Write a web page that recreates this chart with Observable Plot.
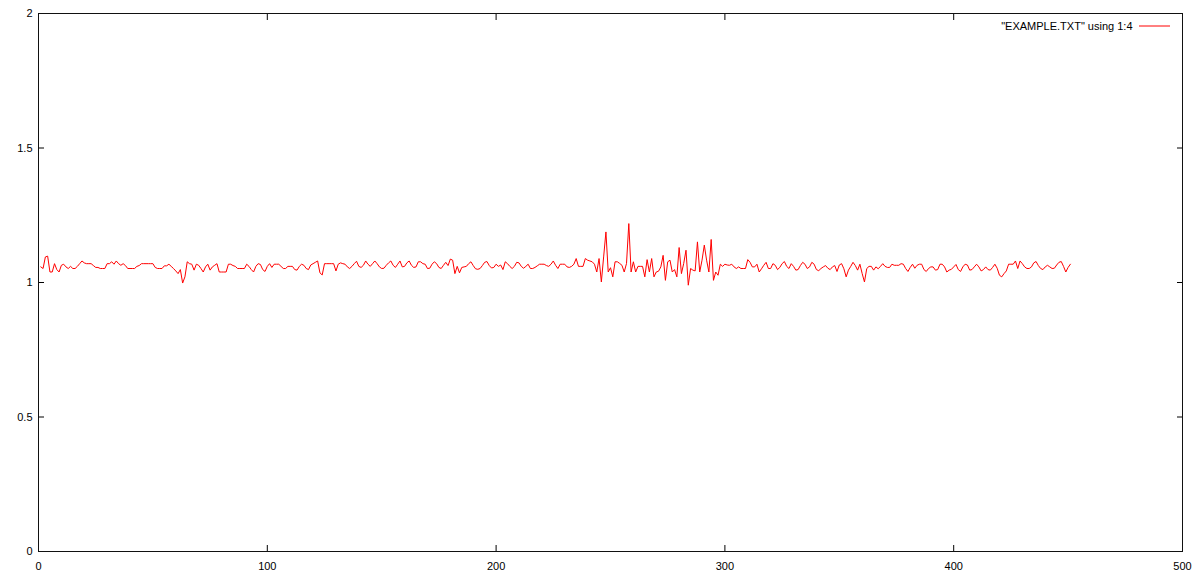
<!DOCTYPE html>
<html>
<head>
<meta charset="utf-8">
<script src="https://cdn.jsdelivr.net/npm/d3@7"></script>
<script src="https://cdn.jsdelivr.net/npm/@observablehq/plot@0.6"></script>
<style>
  html, body { margin: 0; padding: 0; background: #fff; }
  #chart { width: 1200px; height: 580px; }
</style>
</head>
<body>
<div id="chart"></div>
<script>
// Column 1 (sample number) starts at 1; column 4 values
const xStart = 1;
const seriesLabel = "\"EXAMPLE.TXT\" using 1:4";
const xTicks = [0, 100, 200, 300, 400, 500];
const yTicks = [0, 0.5, 1, 1.5, 2];

const values = [
  // 1-50
  1.058,1.052,1.095,1.098,1.039,1.039,1.070,1.048,1.039,1.064,
  1.068,1.058,1.052,1.060,1.052,1.052,1.060,1.070,1.080,1.073,
  1.070,1.070,1.070,1.063,1.056,1.056,1.052,1.052,1.052,1.070,
  1.070,1.077,1.068,1.080,1.070,1.064,1.070,1.063,1.052,1.052,
  1.052,1.052,1.060,1.063,1.070,1.070,1.070,1.070,1.070,1.070,
  // 51-100
  1.056,1.052,1.052,1.052,1.062,1.062,1.068,1.060,1.052,1.043,
  1.033,1.048,0.998,1.021,1.077,1.070,1.068,1.046,1.068,1.064,
  1.052,1.039,1.058,1.068,1.046,1.058,1.064,1.070,1.039,1.039,
  1.039,1.039,1.068,1.068,1.063,1.060,1.052,1.052,1.052,1.052,
  1.068,1.060,1.048,1.039,1.060,1.070,1.067,1.048,1.041,1.060,
  // 101-150
  1.070,1.056,1.068,1.068,1.068,1.060,1.052,1.052,1.060,1.060,
  1.060,1.048,1.046,1.060,1.068,1.064,1.052,1.048,1.065,1.070,
  1.075,1.080,1.036,1.028,1.070,1.070,1.070,1.070,1.070,1.043,
  1.068,1.073,1.070,1.068,1.058,1.052,1.060,1.070,1.079,1.060,
  1.056,1.064,1.080,1.068,1.060,1.070,1.080,1.070,1.058,1.052,
  // 151-200
  1.053,1.064,1.073,1.080,1.064,1.056,1.068,1.080,1.058,1.060,
  1.073,1.080,1.064,1.056,1.058,1.077,1.077,1.070,1.068,1.052,
  1.053,1.068,1.077,1.070,1.056,1.052,1.064,1.075,1.063,1.087,
  1.083,1.033,1.060,1.036,1.056,1.058,1.060,1.070,1.077,1.063,
  1.051,1.049,1.052,1.063,1.075,1.078,1.063,1.054,1.056,1.068,
  // 201-250
  1.060,1.065,1.048,1.077,1.070,1.060,1.052,1.060,1.075,1.073,
  1.060,1.053,1.060,1.068,1.052,1.052,1.056,1.062,1.068,1.068,
  1.068,1.063,1.060,1.068,1.080,1.064,1.052,1.068,1.068,1.068,
  1.058,1.056,1.060,1.068,1.089,1.060,1.060,1.060,1.089,1.083,
  1.080,1.077,1.068,1.039,1.089,1.002,1.095,1.188,1.039,1.055,
  // 251-300
  1.021,1.077,1.077,1.071,1.064,1.039,1.071,1.219,1.039,1.077,
  1.039,1.060,1.060,1.060,1.021,1.085,1.039,1.089,1.021,1.039,
  1.042,1.058,1.101,1.008,1.077,1.083,1.039,1.048,1.021,1.130,
  1.033,1.071,1.120,0.990,1.052,1.046,1.043,1.151,1.039,1.083,
  1.139,1.083,1.039,1.160,1.008,1.039,1.027,1.068,1.060,1.068,
  // 301-350
  1.065,1.064,1.068,1.058,1.052,1.058,1.052,1.052,1.052,1.085,
  1.075,1.058,1.058,1.068,1.039,1.051,1.064,1.075,1.052,1.052,
  1.070,1.064,1.048,1.056,1.070,1.078,1.060,1.052,1.070,1.060,
  1.046,1.048,1.063,1.075,1.068,1.052,1.058,1.075,1.068,1.048,
  1.044,1.052,1.058,1.063,1.053,1.048,1.058,1.063,1.041,1.065,
  // 351-400
  1.070,1.051,1.021,1.046,1.060,1.075,1.063,1.046,1.068,1.033,
  1.002,1.052,1.060,1.060,1.046,1.058,1.051,1.060,1.070,1.060,
  1.056,1.056,1.068,1.064,1.064,1.064,1.070,1.068,1.052,1.041,
  1.056,1.068,1.053,1.064,1.068,1.068,1.048,1.041,1.052,1.058,
  1.058,1.046,1.048,1.068,1.068,1.058,1.039,1.046,1.049,1.058,
  // 401-451
  1.067,1.048,1.041,1.058,1.068,1.065,1.046,1.048,1.058,1.068,
  1.058,1.043,1.048,1.058,1.048,1.046,1.056,1.068,1.053,1.027,
  1.021,1.033,1.043,1.068,1.068,1.068,1.080,1.052,1.080,1.070,
  1.058,1.052,1.052,1.058,1.073,1.078,1.063,1.052,1.048,1.058,
  1.064,1.058,1.052,1.053,1.065,1.075,1.078,1.060,1.039,1.056,
  1.068
];

const data = values.map((v, i) => ({x: xStart + i, y: v}));

const font = "'Liberation Sans', Arial, sans-serif";

const chart = Plot.plot({
  width: 1200,
  height: 580,
  marginLeft: 38,
  marginRight: 18,
  marginTop: 13,
  marginBottom: 29,
  style: {fontFamily: font, fontSize: "11px", color: "#000", background: "#fff"},
  x: {domain: [0, 500]},
  y: {domain: [0, 2]},
  marks: [
    // inward ticks on all four sides
    Plot.axisX(xTicks, {anchor: "bottom", tickSize: -6, fill: "none", label: null}),
    Plot.axisX(xTicks, {anchor: "top", tickSize: -6, fill: "none", label: null}),
    Plot.axisY(yTicks, {anchor: "left", tickSize: -6, fill: "none", label: null}),
    Plot.axisY(yTicks, {anchor: "right", tickSize: -6, fill: "none", label: null}),
    // labels
    Plot.axisX(xTicks, {anchor: "bottom", tickSize: 0, tickPadding: 11, label: null, tickFormat: d => String(d)}),
    Plot.axisY(yTicks, {anchor: "left", tickSize: 0, tickPadding: 6, label: null, tickFormat: d => String(d)}),
    Plot.frame({stroke: "#111"}),
    Plot.line(data, {x: "x", y: "y", stroke: "#ff0000", strokeWidth: 1}),
    Plot.text([seriesLabel], {frameAnchor: "top-right", dx: -50, dy: 13, textAnchor: "end", lineAnchor: "middle", fill: "#000"})
  ]
});

// legend swatch (sample line next to the key text)
const svg = d3.select(chart);
svg.append("line")
  .attr("x1", 1139).attr("x2", 1170)
  .attr("y1", 26).attr("y2", 26)
  .attr("stroke", "#ff0000").attr("stroke-width", 1);

document.getElementById("chart").appendChild(chart);
</script>
</body>
</html>
